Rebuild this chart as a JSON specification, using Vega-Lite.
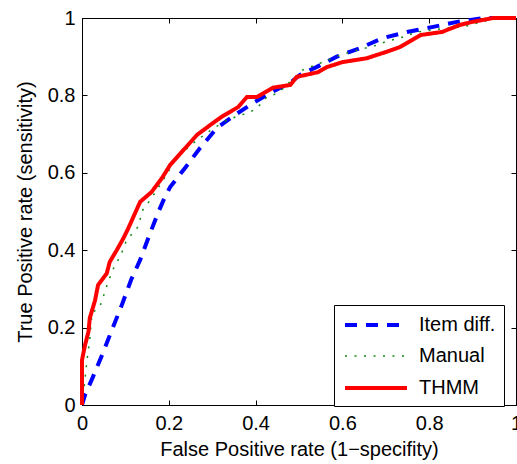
{
  "$schema": "https://vega.github.io/schema/vega-lite/v6.json",
  "width": 434,
  "height": 387,
  "autosize": {"type": "none"},
  "padding": {"left": 82, "top": 18, "right": 1, "bottom": 59},
  "background": "white",
  "config": {
    "font": "Liberation Sans",
    "view": {"stroke": "black", "strokeWidth": 1},
    "axis": {
      "grid": false,
      "tickSize": -5,
      "tickColor": "black",
      "tickWidth": 1,
      "domainColor": "black",
      "labelColor": "black",
      "labelFontSize": 20,
      "labelFlush": false,
      "labelOverlap": false,
      "titleColor": "black",
      "titleFontSize": 20,
      "titleFontWeight": "normal"
    }
  },
  "data": {
    "values": [
      {"s": "Item diff.", "i": 0, "x": 0, "y": 0},
      {"s": "Item diff.", "i": 1, "x": 0.007, "y": 0.026},
      {"s": "Item diff.", "i": 2, "x": 0.025, "y": 0.072},
      {"s": "Item diff.", "i": 3, "x": 0.048, "y": 0.134},
      {"s": "Item diff.", "i": 4, "x": 0.071, "y": 0.2},
      {"s": "Item diff.", "i": 5, "x": 0.09, "y": 0.253},
      {"s": "Item diff.", "i": 6, "x": 0.113, "y": 0.323},
      {"s": "Item diff.", "i": 7, "x": 0.134, "y": 0.375},
      {"s": "Item diff.", "i": 8, "x": 0.157, "y": 0.444},
      {"s": "Item diff.", "i": 9, "x": 0.175, "y": 0.496},
      {"s": "Item diff.", "i": 10, "x": 0.19, "y": 0.535},
      {"s": "Item diff.", "i": 11, "x": 0.203, "y": 0.563},
      {"s": "Item diff.", "i": 12, "x": 0.237, "y": 0.612},
      {"s": "Item diff.", "i": 13, "x": 0.272, "y": 0.664},
      {"s": "Item diff.", "i": 14, "x": 0.311, "y": 0.716},
      {"s": "Item diff.", "i": 15, "x": 0.352, "y": 0.749},
      {"s": "Item diff.", "i": 16, "x": 0.394, "y": 0.78},
      {"s": "Item diff.", "i": 17, "x": 0.44, "y": 0.81},
      {"s": "Item diff.", "i": 18, "x": 0.479, "y": 0.832},
      {"s": "Item diff.", "i": 19, "x": 0.502, "y": 0.853},
      {"s": "Item diff.", "i": 20, "x": 0.54, "y": 0.873},
      {"s": "Item diff.", "i": 21, "x": 0.587, "y": 0.9},
      {"s": "Item diff.", "i": 22, "x": 0.64, "y": 0.922},
      {"s": "Item diff.", "i": 23, "x": 0.693, "y": 0.948},
      {"s": "Item diff.", "i": 24, "x": 0.749, "y": 0.964},
      {"s": "Item diff.", "i": 25, "x": 0.809, "y": 0.977},
      {"s": "Item diff.", "i": 26, "x": 0.864, "y": 0.99},
      {"s": "Item diff.", "i": 27, "x": 0.924, "y": 1},
      {"s": "Item diff.", "i": 28, "x": 1, "y": 1},
      {"s": "Manual", "i": 0, "x": 0, "y": 0},
      {"s": "Manual", "i": 1, "x": 0.005, "y": 0.047},
      {"s": "Manual", "i": 2, "x": 0.012, "y": 0.12},
      {"s": "Manual", "i": 3, "x": 0.018, "y": 0.17},
      {"s": "Manual", "i": 4, "x": 0.023, "y": 0.238},
      {"s": "Manual", "i": 5, "x": 0.041, "y": 0.253},
      {"s": "Manual", "i": 6, "x": 0.048, "y": 0.276},
      {"s": "Manual", "i": 7, "x": 0.06, "y": 0.318},
      {"s": "Manual", "i": 8, "x": 0.076, "y": 0.362},
      {"s": "Manual", "i": 9, "x": 0.088, "y": 0.383},
      {"s": "Manual", "i": 10, "x": 0.101, "y": 0.421},
      {"s": "Manual", "i": 11, "x": 0.118, "y": 0.447},
      {"s": "Manual", "i": 12, "x": 0.129, "y": 0.46},
      {"s": "Manual", "i": 13, "x": 0.14, "y": 0.504},
      {"s": "Manual", "i": 14, "x": 0.152, "y": 0.522},
      {"s": "Manual", "i": 15, "x": 0.168, "y": 0.548},
      {"s": "Manual", "i": 16, "x": 0.187, "y": 0.581},
      {"s": "Manual", "i": 17, "x": 0.219, "y": 0.641},
      {"s": "Manual", "i": 18, "x": 0.26, "y": 0.68},
      {"s": "Manual", "i": 19, "x": 0.29, "y": 0.705},
      {"s": "Manual", "i": 20, "x": 0.325, "y": 0.731},
      {"s": "Manual", "i": 21, "x": 0.364, "y": 0.749},
      {"s": "Manual", "i": 22, "x": 0.383, "y": 0.754},
      {"s": "Manual", "i": 23, "x": 0.403, "y": 0.767},
      {"s": "Manual", "i": 24, "x": 0.426, "y": 0.796},
      {"s": "Manual", "i": 25, "x": 0.452, "y": 0.806},
      {"s": "Manual", "i": 26, "x": 0.479, "y": 0.835},
      {"s": "Manual", "i": 27, "x": 0.509, "y": 0.866},
      {"s": "Manual", "i": 28, "x": 0.555, "y": 0.886},
      {"s": "Manual", "i": 29, "x": 0.594, "y": 0.904},
      {"s": "Manual", "i": 30, "x": 0.634, "y": 0.917},
      {"s": "Manual", "i": 31, "x": 0.68, "y": 0.93},
      {"s": "Manual", "i": 32, "x": 0.698, "y": 0.938},
      {"s": "Manual", "i": 33, "x": 0.74, "y": 0.951},
      {"s": "Manual", "i": 34, "x": 0.772, "y": 0.964},
      {"s": "Manual", "i": 35, "x": 0.841, "y": 0.974},
      {"s": "Manual", "i": 36, "x": 0.878, "y": 0.977},
      {"s": "Manual", "i": 37, "x": 0.92, "y": 0.99},
      {"s": "Manual", "i": 38, "x": 0.96, "y": 1},
      {"s": "Manual", "i": 39, "x": 1, "y": 1},
      {"s": "THMM", "i": 0, "x": 0, "y": 0},
      {"s": "THMM", "i": 1, "x": 0, "y": 0.116},
      {"s": "THMM", "i": 2, "x": 0.007, "y": 0.155},
      {"s": "THMM", "i": 3, "x": 0.015, "y": 0.19},
      {"s": "THMM", "i": 4, "x": 0.018, "y": 0.225},
      {"s": "THMM", "i": 5, "x": 0.03, "y": 0.27},
      {"s": "THMM", "i": 6, "x": 0.037, "y": 0.31},
      {"s": "THMM", "i": 7, "x": 0.057, "y": 0.34},
      {"s": "THMM", "i": 8, "x": 0.064, "y": 0.37},
      {"s": "THMM", "i": 9, "x": 0.08, "y": 0.4},
      {"s": "THMM", "i": 10, "x": 0.095, "y": 0.43},
      {"s": "THMM", "i": 11, "x": 0.106, "y": 0.455},
      {"s": "THMM", "i": 12, "x": 0.122, "y": 0.495},
      {"s": "THMM", "i": 13, "x": 0.134, "y": 0.525},
      {"s": "THMM", "i": 14, "x": 0.16, "y": 0.55},
      {"s": "THMM", "i": 15, "x": 0.184, "y": 0.586},
      {"s": "THMM", "i": 16, "x": 0.203, "y": 0.62},
      {"s": "THMM", "i": 17, "x": 0.23, "y": 0.654},
      {"s": "THMM", "i": 18, "x": 0.265, "y": 0.698},
      {"s": "THMM", "i": 19, "x": 0.295, "y": 0.723},
      {"s": "THMM", "i": 20, "x": 0.322, "y": 0.745},
      {"s": "THMM", "i": 21, "x": 0.36, "y": 0.77},
      {"s": "THMM", "i": 22, "x": 0.38, "y": 0.796},
      {"s": "THMM", "i": 23, "x": 0.403, "y": 0.796},
      {"s": "THMM", "i": 24, "x": 0.44, "y": 0.82},
      {"s": "THMM", "i": 25, "x": 0.48, "y": 0.827},
      {"s": "THMM", "i": 26, "x": 0.495, "y": 0.848},
      {"s": "THMM", "i": 27, "x": 0.544, "y": 0.86},
      {"s": "THMM", "i": 28, "x": 0.564, "y": 0.873},
      {"s": "THMM", "i": 29, "x": 0.6, "y": 0.886},
      {"s": "THMM", "i": 30, "x": 0.656, "y": 0.896},
      {"s": "THMM", "i": 31, "x": 0.7, "y": 0.912},
      {"s": "THMM", "i": 32, "x": 0.733, "y": 0.925},
      {"s": "THMM", "i": 33, "x": 0.78, "y": 0.956},
      {"s": "THMM", "i": 34, "x": 0.83, "y": 0.964},
      {"s": "THMM", "i": 35, "x": 0.87, "y": 0.982},
      {"s": "THMM", "i": 36, "x": 0.9, "y": 0.99},
      {"s": "THMM", "i": 37, "x": 0.947, "y": 1},
      {"s": "THMM", "i": 38, "x": 1, "y": 1}
    ]
  },
  "layer": [
    {
      "mark": {"type": "line"},
      "encoding": {
        "x": {
          "field": "x", "type": "quantitative",
          "scale": {"domain": [0, 1], "nice": false},
          "axis": {"orient": "bottom", "values": [0, 0.2, 0.4, 0.6, 0.8, 1], "format": "~g", "title": "False Positive rate (1−specifity)", "labelPadding": 13, "titlePadding": 6}
        },
        "y": {
          "field": "y", "type": "quantitative",
          "scale": {"domain": [0, 1], "nice": false},
          "axis": {"orient": "left", "values": [0, 0.2, 0.4, 0.6, 0.8, 1], "format": "~g", "title": "True Positive rate (sensitivity)", "labelPadding": 12, "titlePadding": 12}
        },
        "color": {
          "field": "s", "type": "nominal",
          "scale": {"domain": ["Item diff.", "Manual", "THMM"], "range": ["#0000ff", "#138a13", "#ff0000"]},
          "legend": {
            "orient": "none", "legendX": 252, "legendY": 287, "title": null,
            "fillColor": "white", "strokeColor": "black", "padding": 8,
            "symbolType": "M-3.1,0H3.1", "symbolSize": 400,
            "labelFontSize": 20, "labelColor": "black", "labelOffset": 31, "symbolOffset": 22,
            "rowPadding": 10, "labelLimit": 0
          }
        },
        "strokeDash": {
          "field": "s", "type": "nominal",
          "scale": {"domain": ["Item diff.", "Manual", "THMM"], "range": [[12, 9], [2, 7.5], [1, 0]]}
        },
        "strokeWidth": {
          "field": "s", "type": "nominal",
          "scale": {"type": "ordinal", "domain": ["Item diff.", "Manual", "THMM"], "range": [4, 1.5, 4]}
        },
        "order": {"field": "i", "type": "quantitative"}
      }
    },
    {
      "mark": {"type": "point", "opacity": 0},
      "encoding": {
        "x": {
          "field": "x", "type": "quantitative",
          "scale": {"domain": [0, 1], "nice": false},
          "axis": {"orient": "top", "values": [0, 0.2, 0.4, 0.6, 0.8, 1], "labels": false, "title": null}
        },
        "y": {
          "field": "y", "type": "quantitative",
          "scale": {"domain": [0, 1], "nice": false},
          "axis": {"orient": "right", "values": [0, 0.2, 0.4, 0.6, 0.8, 1], "labels": false, "title": null}
        }
      }
    }
  ],
  "resolve": {"axis": {"x": "independent", "y": "independent"}}
}
